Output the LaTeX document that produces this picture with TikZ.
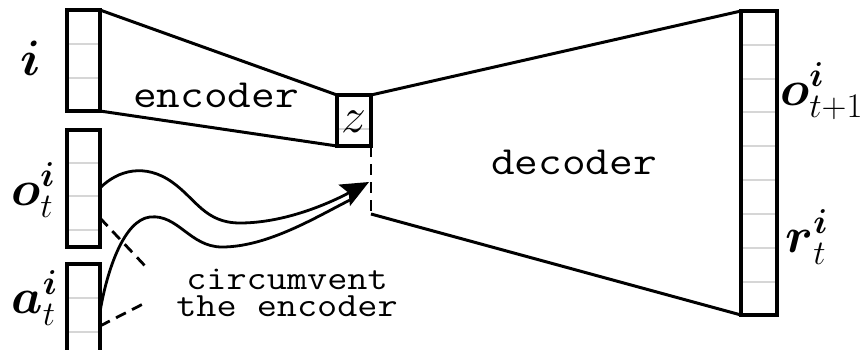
\documentclass[tikz,border=0pt]{standalone}
\usepackage{amsmath}
\usetikzlibrary{arrows.meta}
\begin{document}
\begin{tikzpicture}[x=0.5pt,y=-0.5pt,
  edge/.style={line width=1.5pt},
  cellline/.style={draw=black!16, line width=0.9pt},
  barbox/.style={draw, line width=1.7pt},
  dashline/.style={line width=1.4pt, dash pattern=on 5.5pt off 3.5pt},
  flow/.style={line width=1.4pt},
  lbl/.style={inner sep=0pt, font=\fontsize{24}{28}\selectfont},
  ttbig/.style={inner sep=0pt, font=\fontsize{20}{22}\selectfont\ttfamily},
  ttsmall/.style={inner sep=0pt, align=center, font=\fontsize{17}{13.5}\selectfont\ttfamily}]
\useasboundingbox (0,0) rectangle (864,349);
\fill[white] (0,0) rectangle (864,349);
\clip (0,0) rectangle (864,349);

% corner points of the blocks
\coordinate (iTL) at (67,10);   \coordinate (iBR) at (100,111);
\coordinate (oTL) at (67,130);  \coordinate (oBR) at (100,247);
\coordinate (aTL) at (67,264);  \coordinate (aBR) at (100,360);
\coordinate (zTL) at (337,95);  \coordinate (zBR) at (371,146);
\coordinate (rTL) at (741,11);  \coordinate (rBR) at (777,315);
\coordinate (gapB) at (371,214);
\coordinate (tip) at (369,182);
\coordinate (tail) at (350,200);

% faint cell separators
\foreach \y in {44,78} \draw[cellline] (67,\y) -- (100,\y);
\foreach \y in {163,196,230} \draw[cellline] (67,\y) -- (100,\y);
\foreach \y in {298,332} \draw[cellline] (67,\y) -- (100,\y);
\draw[cellline] (337,129) -- (371,129);
\foreach \y in {45,79,112,146,180,214,248,282} \draw[cellline] (741,\y) -- (777,\y);

% encoder and decoder outlines
\draw[edge] (iBR |- iTL) -- (zTL);
\draw[edge] (iBR) -- (zTL |- zBR);
\draw[edge] (zBR |- zTL) -- (rTL);
\draw[edge] (gapB) -- (rTL |- rBR);
\draw[dashline] (zBR) -- (gapB);

% vectors
\draw[barbox] (iTL) rectangle (iBR);
\draw[barbox] (oTL) rectangle (oBR);
\draw[barbox] (aTL) rectangle (aBR);
\draw[barbox] (zTL) rectangle (zBR);
\draw[barbox] (rTL) rectangle (rBR);

% bypassed encoder stub
\draw[dashline] (100,218) -- (147,268);
\draw[dashline] (100,326) -- (145,303);

% skip connections around the encoder
\draw[flow, -{Stealth[length=14pt,width=12pt,inset=2.5pt]}]
  (100,188) .. controls (118,170) and (145,163) .. (172,182)
  .. controls (196,199) and (205,223) .. (240,223)
  .. controls (285,223) and (330,203) .. (tip);
\draw[flow]
  (100,312) .. controls (107,270) and (124,220) .. (150,217)
  .. controls (178,214) and (190,247) .. (222,247)
  .. controls (268,247) and (318,216) .. (tail);

% labels
\node[lbl, anchor=base west] (li) at (20,75) {$\boldsymbol{i}$};
\node[lbl, anchor=base west] (lo) at (11,205) {$\boldsymbol{o}^{\boldsymbol{i}}_{t}$};
\node[lbl, anchor=base west] (la) at (11,313) {$\boldsymbol{a}^{\boldsymbol{i}}_{t}$};
\node[lbl, anchor=base west] (lo1) at (780,105) {$\boldsymbol{o}^{\boldsymbol{i}}_{t+1}$};
\node[lbl, anchor=base west] (lr) at (785,252) {$\boldsymbol{r}^{\boldsymbol{i}}_{t}$};
\node[lbl, anchor=base] (lz) at (354,132) {$z$};

\node[ttbig, anchor=base] (enc) at (216,107) {\scalebox{1.15}[1]{encoder}};
\node[ttbig, anchor=base] (dec) at (574,174) {\scalebox{1.15}[1]{decoder}};
\node[ttsmall, anchor=north] (circ) at (287,269)
  {\scalebox{1.15}[1]{circumvent}\\\scalebox{1.15}[1]{the encoder}};
\end{tikzpicture}
\end{document}
